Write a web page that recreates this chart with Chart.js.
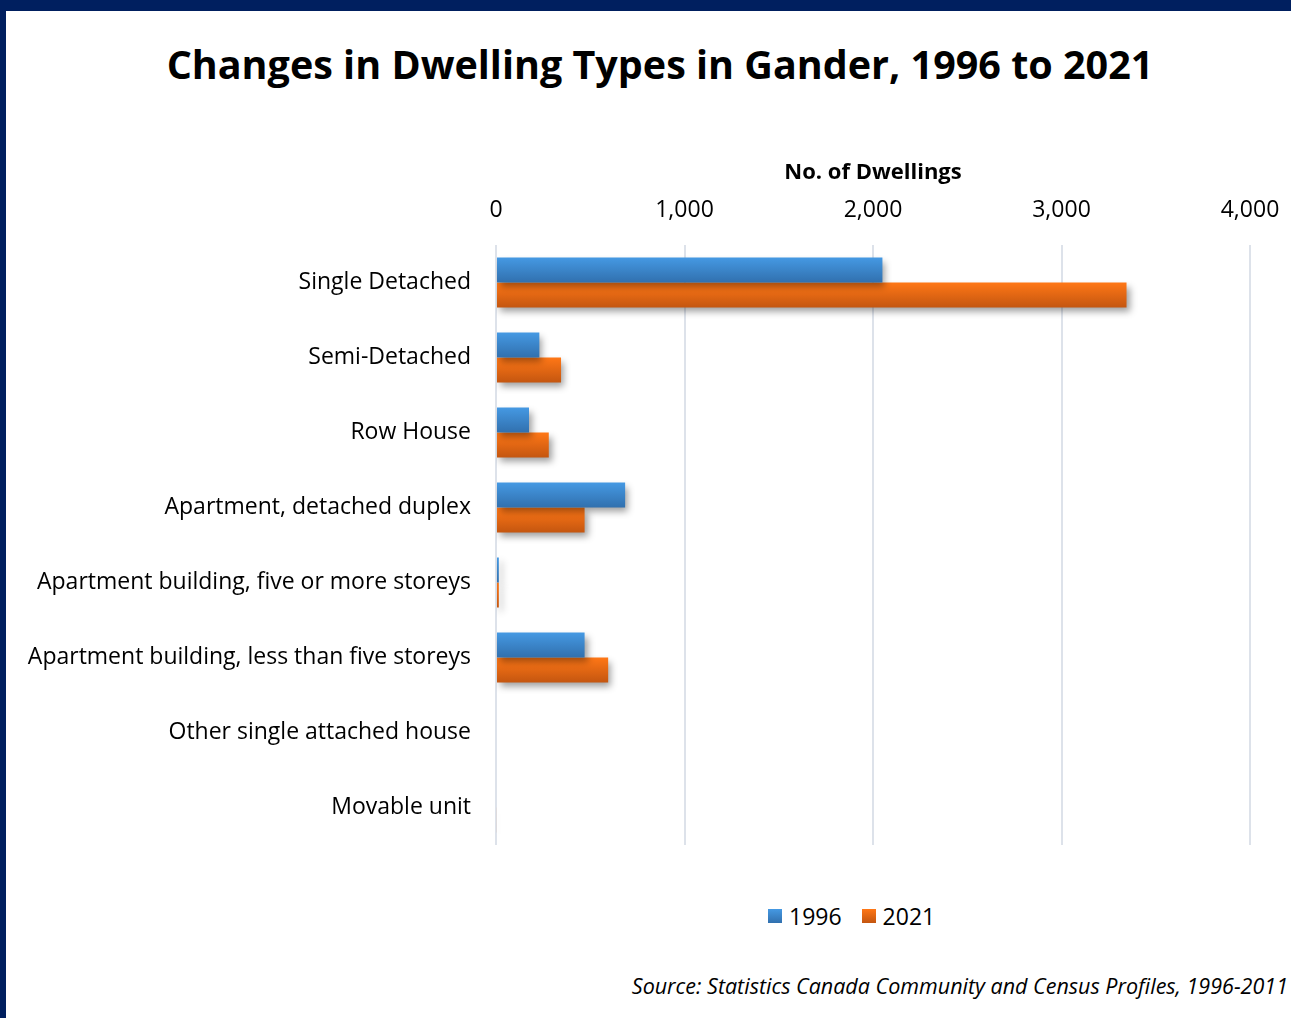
<!DOCTYPE html>
<html>
<head>
<meta charset="utf-8">
<script src="https://cdn.jsdelivr.net/npm/chart.js@4/dist/chart.umd.min.js"></script>
<style>
  html, body { margin: 0; padding: 0; background: #fff; }
  #page {
    position: relative; width: 1291px; height: 1018px; box-sizing: border-box;
    border-top: 11px solid #001f5f; border-left: 6px solid #001f5f; overflow: hidden;
    font-family: "Open Sans", Lato, sans-serif; color: #000;
  }
  #title {
    position: absolute; left: 0; width: 1308px; top: 32px; text-align: center;
    font-weight: 700; font-size: 39.5px; line-height: 42px;
  }
  #wrap { position: absolute; left: 0; top: 0; width: 1285px; height: 840px; }
  #legend {
    position: absolute; left: 762px; top: 893px; display: flex; gap: 20px;
    font-size: 23px; line-height: 24px; align-items: center;
  }
  #legend .item { display: flex; align-items: center; gap: 7px; }
  #legend .sw { width: 14px; height: 14px; display: inline-block; }
  #source {
    position: absolute; right: 3px; top: 960px; font-style: italic; font-size: 21.5px;
  }
</style>
</head>
<body>
<div id="page">
  <div id="title">Changes in Dwelling Types in Gander, 1996 to 2021</div>
  <div id="wrap"><canvas id="chart"></canvas></div>
  <div id="legend"></div>
  <div id="source">Source: Statistics Canada Community and Census Profiles, 1996-2011</div>
</div>
<script>
// Dwelling categories, top to bottom
const categories = [
  'Single Detached',
  'Semi-Detached',
  'Row House',
  'Apartment, detached duplex',
  'Apartment building, five or more storeys',
  'Apartment building, less than five storeys',
  'Other single attached house',
  'Movable unit'
];
// Number of dwellings per census year
const dwellings1996 = [2050, 230, 175, 685, 15, 470, 0, 0];
const dwellings2021 = [3345, 345, 280, 470, 15, 595, 0, 5];
const seriesLabels = ['1996', '2021'];
// Axis tick values
const axisMax = 4000;
const axisStep = 1000;

const palette = [
  { top: '#4599e3', bottom: '#3170ae', flat: '#3d89d2' },
  { top: '#ff7716', bottom: '#c45610', flat: '#ee6a14' }
];

// Vertical gradient per bar, located through the category scale
function barFill(seriesIndex) {
  return function (ctx) {
    const chart = ctx.chart;
    const y = chart.scales && chart.scales.y;
    const c = palette[seriesIndex];
    if (!y || !chart.chartArea || ctx.dataIndex === undefined) return c.flat;
    const center = y.getPixelForValue(ctx.dataIndex);
    const band = y.getPixelForValue(1) - y.getPixelForValue(0);
    const h = band * (2 / 3) / 2;
    const y0 = seriesIndex === 0 ? center - h : center;
    const g = chart.ctx.createLinearGradient(0, y0, 0, y0 + h);
    g.addColorStop(0, c.top);
    g.addColorStop(1, c.bottom);
    return g;
  };
}

// Soft drop shadow under the bars
const barShadow = {
  id: 'barShadow',
  beforeDatasetsDraw(chart) {
    const ctx = chart.ctx;
    ctx.save();
    ctx.shadowColor = 'rgba(0,0,0,0.38)';
    ctx.shadowBlur = 7;
    ctx.shadowOffsetX = 3;
    ctx.shadowOffsetY = 4;
  },
  afterDatasetsDraw(chart) {
    chart.ctx.restore();
  }
};

const FONT = '"Open Sans", Lato, sans-serif';

const chart = new Chart(document.getElementById('chart'), {
  type: 'bar',
  data: {
    labels: categories,
    datasets: [
      { label: seriesLabels[0], data: dwellings1996, backgroundColor: barFill(0) },
      { label: seriesLabels[1], data: dwellings2021, backgroundColor: barFill(1) }
    ]
  },
  options: {
    indexAxis: 'y',
    responsive: true,
    maintainAspectRatio: false,
    animation: false,
    layout: { padding: { top: 149, right: 41, bottom: 6, left: 0 } },
    datasets: { bar: { categoryPercentage: 2 / 3, barPercentage: 1, borderWidth: 0 } },
    plugins: {
      legend: { display: false },
      title: { display: false },
      tooltip: { enabled: false }
    },
    scales: {
      x: {
        position: 'top',
        min: 0,
        max: axisMax,
        ticks: {
          stepSize: axisStep,
          color: '#000',
          padding: 21,
          font: { family: FONT, size: 23 },
          callback: v => v.toLocaleString('en-US')
        },
        grid: { color: '#dde2ea', lineWidth: 2, drawTicks: false },
        border: { display: false },
        title: {
          display: true,
          text: 'No. of Dwellings',
          color: '#000',
          padding: { top: 0, bottom: 0 },
          font: { family: FONT, size: 22, weight: 'bold' }
        },
        afterFit(scale) {
          scale.height = 85;
          scale.paddingLeft = 0;
          scale.paddingRight = 0;
        }
      },
      y: {
        ticks: {
          color: '#000',
          padding: 25,
          font: { family: FONT, size: 23 }
        },
        grid: { display: false, drawTicks: false },
        border: { display: false },
        afterFit(scale) {
          scale.width = 490;
          scale.paddingTop = 0;
          scale.paddingBottom = 0;
        }
      }
    }
  },
  plugins: [barShadow]
});

// Legend built from the chart's datasets
const legend = document.getElementById('legend');
chart.data.datasets.forEach((ds, i) => {
  const item = document.createElement('span');
  item.className = 'item';
  const sw = document.createElement('span');
  sw.className = 'sw';
  sw.style.background = 'linear-gradient(' + palette[i].top + ',' + palette[i].bottom + ')';
  const txt = document.createElement('span');
  txt.textContent = ds.label;
  item.appendChild(sw);
  item.appendChild(txt);
  legend.appendChild(item);
});
</script>
</body>
</html>
